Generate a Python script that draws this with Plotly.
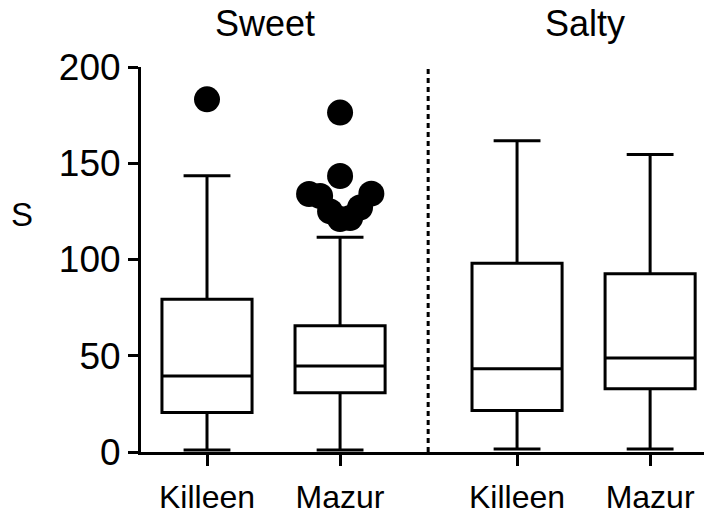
import plotly.graph_objects as go

# ---- data ----
groups = ["Sweet", "Salty"]
tick_labels = ["Killeen", "Mazur", "Killeen", "Mazur"]
positions = [0.0, 1.0, 2.33, 3.33]
q1 = [20.5, 30.8, 21.5, 32.9]
median = [39.5, 44.7, 43.3, 48.8]
q3 = [79.3, 65.6, 98.0, 92.6]
lowerfence = [1.0, 1.0, 1.5, 1.5]
upperfence = [143.5, 111.5, 161.7, 154.6]

# outliers: (box index, value, horizontal spread offset)
outlier_box = [0, 1, 1, 1, 1, 1, 1, 1, 1, 1]
outlier_val = [183.2, 176.3, 143.4, 134.0, 133.0, 125.0, 121.0, 121.5, 127.0, 134.2]
outlier_off = [0.0, 0.0, 0.0, -0.233, -0.15, -0.075, 0.0, 0.075, 0.15, 0.235]

title_x = [0.436, 2.842]
divider_x = 1.662

FONT = "Liberation Sans, Arial, sans-serif"

fig = go.Figure()
for i in range(len(positions)):
    fig.add_trace(go.Box(
        x=[positions[i]], q1=[q1[i]], median=[median[i]], q3=[q3[i]],
        lowerfence=[lowerfence[i]], upperfence=[upperfence[i]],
        width=0.677, whiskerwidth=0.52, boxpoints=False,
        line=dict(color="black", width=3), fillcolor="white",
        showlegend=False, hoverinfo="skip",
    ))

fig.add_trace(go.Scatter(
    x=[positions[b] + o for b, o in zip(outlier_box, outlier_off)],
    y=outlier_val, mode="markers",
    marker=dict(color="black", size=26, line=dict(width=0)),
    showlegend=False, cliponaxis=False,
))

fig.add_shape(type="line", x0=divider_x, x1=divider_x, y0=0, y1=201,
              xref="x", yref="y", line=dict(color="black", width=3, dash="5px,4px"))

for g, tx in zip(groups, title_x):
    fig.add_annotation(x=tx, y=1.112, xref="x", yref="paper", text=g,
                       showarrow=False, xanchor="center", yanchor="middle",
                       font=dict(family=FONT, size=36, color="black"))

fig.add_annotation(x=-0.209, y=0.617, xref="paper", yref="paper", text="S",
                   showarrow=False, xanchor="center", yanchor="middle",
                   font=dict(family=FONT, size=33, color="black"))

# page body has an 8px default margin: figure is sized/offset to compensate
fig.update_layout(
    width=704, height=506,
    margin=dict(l=133, r=2, t=59, b=62),
    plot_bgcolor="white", paper_bgcolor="white",
    font=dict(family=FONT, color="black"),
)
fig.update_xaxes(
    range=[-0.496, 3.78], tickvals=positions, ticktext=tick_labels,
    showline=True, linecolor="black", linewidth=3, showgrid=False, zeroline=False,
    ticks="outside", ticklen=11, tickwidth=3, tickcolor="black",
    tickfont=dict(family=FONT, size=32, color="black"),
    automargin=False, ticklabelstandoff=4,
)
fig.update_yaxes(
    range=[0, 200], tickvals=[0, 50, 100, 150, 200],
    showline=True, linecolor="black", linewidth=3, showgrid=False, zeroline=False,
    ticks="outside", ticklen=10, tickwidth=3, tickcolor="black",
    tickfont=dict(family=FONT, size=37, color="black"),
    automargin=False,
)

fig.write_html("out.html")
